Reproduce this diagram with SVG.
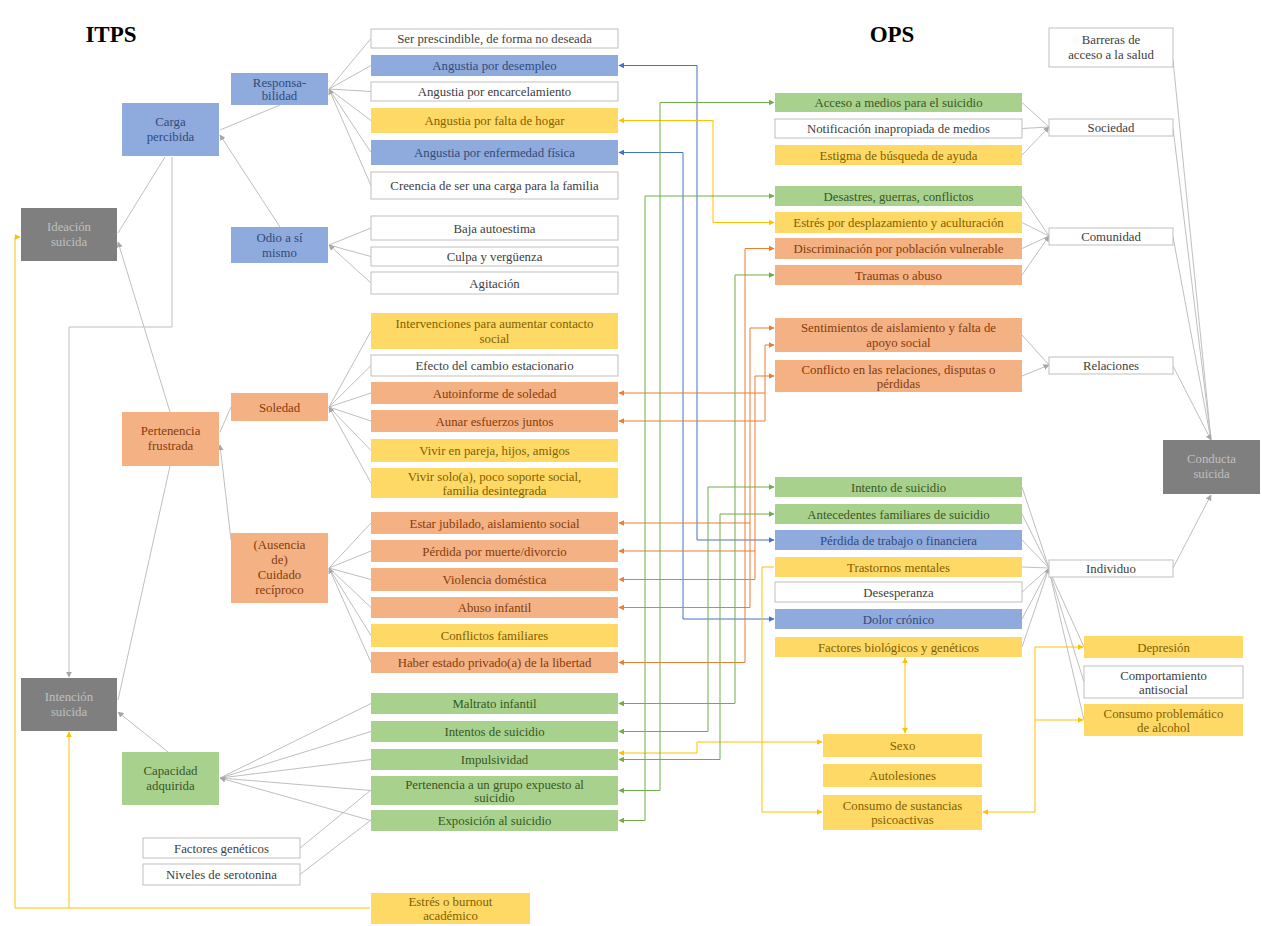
<svg xmlns="http://www.w3.org/2000/svg" width="1262" height="926" viewBox="0 0 1262 926">
<defs>
<style>
text{font-family:"Liberation Serif","Times New Roman",serif;font-size:12.8px;text-anchor:middle}
.t{font-size:23px;font-weight:bold;fill:#000}
.w rect{fill:#fff;stroke:#BFBFBF;stroke-width:1}
.w text{fill:#404040}
.b rect{fill:#8FAADC}
.b text{fill:#2F4A7A}
.y rect{fill:#FFD966}
.y text{fill:#7F6000}
.s rect{fill:#F4B183}
.s text{fill:#843C0C}
.g rect{fill:#A9D18E}
.g text{fill:#385723}
.d rect{fill:#7F7F7F}
.d text{fill:#BFBFBF}
#connectors path{fill:none;stroke-width:1}
.cg{stroke:#BFBFBF}
.cb{stroke:#4472C4;stroke-width:1.5}
.cy{stroke:#FFC000;stroke-width:1.5}
.co{stroke:#ED7D31;stroke-width:1.5}
.cn{stroke:#70AD47;stroke-width:1.5}
</style>
<marker id="ag" viewBox="0 0 10 10" refX="9" refY="5" markerWidth="6" markerHeight="6" markerUnits="userSpaceOnUse" orient="auto-start-reverse"><path d="M0,0L10,5L0,10z" fill="#A6A6A6"/></marker>
<marker id="ab" viewBox="0 0 10 10" refX="9" refY="5" markerWidth="6" markerHeight="6" markerUnits="userSpaceOnUse" orient="auto-start-reverse"><path d="M0,0L10,5L0,10z" fill="#4472C4"/></marker>
<marker id="ay" viewBox="0 0 10 10" refX="9" refY="5" markerWidth="6" markerHeight="6" markerUnits="userSpaceOnUse" orient="auto-start-reverse"><path d="M0,0L10,5L0,10z" fill="#FFC000"/></marker>
<marker id="ao" viewBox="0 0 10 10" refX="9" refY="5" markerWidth="6" markerHeight="6" markerUnits="userSpaceOnUse" orient="auto-start-reverse"><path d="M0,0L10,5L0,10z" fill="#ED7D31"/></marker>
<marker id="an" viewBox="0 0 10 10" refX="9" refY="5" markerWidth="6" markerHeight="6" markerUnits="userSpaceOnUse" orient="auto-start-reverse"><path d="M0,0L10,5L0,10z" fill="#70AD47"/></marker>
</defs>
<rect width="1262" height="926" fill="#fff"/>
<text class="t" x="111" y="42">ITPS</text>
<text class="t" x="892" y="42">OPS</text>

<g id="connectors">
<path class="cg" marker-end="url(#ag)" d="M371,38.5L329,89M371,65.5L329,89M371,91.5L329,89M371,120.5L329,89M371,152.5L329,89M371,185.5L329,89"/>
<path class="cg" marker-end="url(#ag)" d="M371,228L329,245M371,256.5L329,245M371,283L329,245"/>
<path class="cg" marker-end="url(#ag)" d="M371,331L329,407M371,365.5L329,407M371,393L329,407M371,421L329,407M371,450.5L329,407M371,483L329,407"/>
<path class="cg" marker-end="url(#ag)" d="M371,523L329,568M371,551L329,568M371,579.5L329,568M371,607.5L329,568M371,635.5L329,568M371,662.5L329,568"/>
<path class="cg" marker-end="url(#ag)" d="M371,703.5L220,778M371,731.5L220,778M371,759.5L220,778M371,790.5L220,778M371,820.5L220,778"/>
<path class="cg" d="M300,848L371,790M300,874.5L371,820"/>
<path class="cg" marker-end="url(#ag)" d="M280,105L220,130M280,227L220,135"/>
<path class="cg" marker-end="url(#ag)" d="M165,157L118,233M170,412L118,242"/>
<path class="cg" marker-end="url(#ag)" d="M172,157V327H69V677"/>
<path class="cg" marker-end="url(#ag)" d="M231,407L220,432M231,540L220,445"/>
<path class="cg" marker-end="url(#ag)" d="M170,466L118,700M168,752L118,712"/>
<path class="cg" marker-end="url(#ag)" d="M1022,102.5L1049,127M1022,128.5L1049,127M1022,155L1049,127"/>
<path class="cg" marker-end="url(#ag)" d="M1022,196L1049,236M1022,222.5L1049,236M1022,248.5L1049,236M1022,275L1049,236"/>
<path class="cg" marker-end="url(#ag)" d="M1022,335L1049,365M1022,376L1049,365"/>
<path class="cg" marker-end="url(#ag)" d="M1022,487L1049,568M1022,514L1049,568M1022,540L1049,568M1022,567L1049,568M1022,592L1049,568M1022,619L1049,568M1022,647L1049,568"/>
<path class="cg" d="M1049,570L1084,647M1049,570L1084,682M1049,570L1084,720"/>
<path class="cg" marker-end="url(#ag)" d="M1173,60L1211,440M1173,128L1211,440M1173,237L1211,440M1173,366L1211,440"/>
<path class="cg" marker-end="url(#ag)" d="M1173,568L1211,495"/>
<path class="cb" marker-start="url(#ab)" marker-end="url(#ab)" d="M619,65.5H697V540H774"/>
<path class="cb" marker-start="url(#ab)" marker-end="url(#ab)" d="M619,152.5H683V619H774"/>
<path class="cy" marker-start="url(#ay)" marker-end="url(#ay)" d="M619,120.5H713V222.5H774"/>
<path class="cy" marker-start="url(#ay)" marker-end="url(#ay)" d="M619,753H697V742H822"/>
<path class="cy" marker-end="url(#ay)" d="M774,567H762V812H822"/>
<path class="cy" marker-start="url(#ay)" marker-end="url(#ay)" d="M905,658V733"/>
<path class="cy" marker-start="url(#ay)" marker-end="url(#ay)" d="M983,812H1035V647H1083"/>
<path class="cy" marker-end="url(#ay)" d="M1035,720H1083"/>
<path class="cy" marker-end="url(#ay)" d="M370,908H15V237H20"/>
<path class="cy" marker-end="url(#ay)" d="M69,908V732"/>
<path class="co" marker-start="url(#ao)" marker-end="url(#ao)" d="M619,393H765V345H774"/>
<path class="co" marker-start="url(#ao)" d="M619,421H765V393"/>
<path class="co" marker-start="url(#ao)" marker-end="url(#ao)" d="M619,523H750V328H774"/>
<path class="co" marker-start="url(#ao)" marker-end="url(#ao)" d="M619,551H755V376H774"/>
<path class="co" marker-start="url(#ao)" d="M619,579.5H755V551"/>
<path class="co" marker-start="url(#ao)" d="M619,607.5H750V523"/>
<path class="co" marker-start="url(#ao)" marker-end="url(#ao)" d="M619,662.5H745V248.5H774"/>
<path class="cn" marker-start="url(#an)" marker-end="url(#an)" d="M619,703.5H735V275H774"/>
<path class="cn" marker-start="url(#an)" marker-end="url(#an)" d="M619,731.5H708V487H774"/>
<path class="cn" marker-start="url(#an)" marker-end="url(#an)" d="M619,759.5H720V514H774"/>
<path class="cn" marker-start="url(#an)" marker-end="url(#an)" d="M619,790.5H660V102.5H774"/>
<path class="cn" marker-start="url(#an)" marker-end="url(#an)" d="M619,820.5H645V196H774"/>
</g>

<g id="carga" class="b"><rect x="122" y="103" width="97" height="53"/><text x="170.5" y="126">Carga</text><text x="170.5" y="141">percibida</text></g>
<g id="responsabilidad" class="b"><rect x="231" y="73" width="97" height="32"/><text x="279.5" y="87">Responsa-</text><text x="279.5" y="100">bilidad</text></g>
<g id="odio" class="b"><rect x="231" y="227" width="97" height="36"/><text x="279.5" y="242">Odio a sí</text><text x="279.5" y="257">mismo</text></g>
<g id="ideacion" class="d"><rect x="21" y="208" width="96" height="53"/><text x="69" y="231">Ideación</text><text x="69" y="246">suicida</text></g>
<g id="pertenencia" class="s"><rect x="122" y="412" width="97" height="54"/><text x="170.5" y="435">Pertenencia</text><text x="170.5" y="450">frustrada</text></g>
<g id="soledad" class="s"><rect x="231" y="393" width="97" height="28"/><text x="279.5" y="411.5">Soledad</text></g>
<g id="cuidado" class="s"><rect x="231" y="533" width="97" height="70"/><text x="279.5" y="549">(Ausencia</text><text x="279.5" y="564">de)</text><text x="279.5" y="579">Cuidado</text><text x="279.5" y="594">recíproco</text></g>
<g id="intencion" class="d"><rect x="21" y="678" width="96" height="53"/><text x="69" y="701">Intención</text><text x="69" y="716">suicida</text></g>
<g id="capacidad" class="g"><rect x="122" y="752" width="97" height="53"/><text x="170.5" y="775">Capacidad</text><text x="170.5" y="790">adquirida</text></g>
<g id="factgen" class="w"><rect x="143" y="838" width="157" height="20"/><text x="221.5" y="852.5">Factores genéticos</text></g>
<g id="serotonina" class="w"><rect x="143" y="864" width="157" height="21"/><text x="221.5" y="879">Niveles de serotonina</text></g>

<g id="m1" class="w"><rect x="371" y="29" width="247" height="19"/><text x="494.5" y="43">Ser prescindible, de forma no deseada</text></g>
<g id="m2" class="b"><rect x="371" y="55" width="247" height="21"/><text x="494.5" y="70">Angustia por desempleo</text></g>
<g id="m3" class="w"><rect x="371" y="82" width="247" height="19"/><text x="494.5" y="96">Angustia por encarcelamiento</text></g>
<g id="m4" class="y"><rect x="371" y="108" width="247" height="25"/><text x="494.5" y="125">Angustia por falta de hogar</text></g>
<g id="m5" class="b"><rect x="371" y="140" width="247" height="25"/><text x="494.5" y="157">Angustia por enfermedad física</text></g>
<g id="m6" class="w"><rect x="371" y="172" width="247" height="27"/><text x="494.5" y="190">Creencia de ser una carga para la familia</text></g>
<g id="m7" class="w"><rect x="371" y="216" width="247" height="24"/><text x="494.5" y="232.5">Baja autoestima</text></g>
<g id="m8" class="w"><rect x="371" y="247" width="247" height="19"/><text x="494.5" y="261">Culpa y vergüenza</text></g>
<g id="m9" class="w"><rect x="371" y="272" width="247" height="22"/><text x="494.5" y="287.5">Agitación</text></g>
<g id="m10" class="y"><rect x="371" y="313" width="247" height="36"/><text x="494.5" y="328">Intervenciones para aumentar contacto</text><text x="494.5" y="343">social</text></g>
<g id="m11" class="w"><rect x="371" y="355" width="247" height="21"/><text x="494.5" y="370">Efecto del cambio estacionario</text></g>
<g id="m12" class="s"><rect x="371" y="382" width="247" height="22"/><text x="494.5" y="397.5">Autoinforme de soledad</text></g>
<g id="m13" class="s"><rect x="371" y="410" width="247" height="22"/><text x="494.5" y="425.5">Aunar esfuerzos juntos</text></g>
<g id="m14" class="y"><rect x="371" y="439" width="247" height="23"/><text x="494.5" y="455">Vivir en pareja, hijos, amigos</text></g>
<g id="m15" class="y"><rect x="371" y="468" width="247" height="30"/><text x="494.5" y="480.5">Vivir solo(a), poco soporte social,</text><text x="494.5" y="494.5">familia desintegrada</text></g>
<g id="m16" class="s"><rect x="371" y="512" width="247" height="22"/><text x="494.5" y="527.5">Estar jubilado, aislamiento social</text></g>
<g id="m17" class="s"><rect x="371" y="540" width="247" height="22"/><text x="494.5" y="555.5">Pérdida por muerte/divorcio</text></g>
<g id="m18" class="s"><rect x="371" y="568" width="247" height="23"/><text x="494.5" y="584">Violencia doméstica</text></g>
<g id="m19" class="s"><rect x="371" y="597" width="247" height="21"/><text x="494.5" y="612">Abuso infantil</text></g>
<g id="m20" class="y"><rect x="371" y="624" width="247" height="23"/><text x="494.5" y="640">Conflictos familiares</text></g>
<g id="m21" class="s"><rect x="371" y="652" width="247" height="21"/><text x="494.5" y="667">Haber estado privado(a) de la libertad</text></g>
<g id="m22" class="g"><rect x="371" y="693" width="247" height="21"/><text x="494.5" y="708">Maltrato infantil</text></g>
<g id="m23" class="g"><rect x="371" y="721" width="247" height="21"/><text x="494.5" y="736">Intentos de suicidio</text></g>
<g id="m24" class="g"><rect x="371" y="749" width="247" height="21"/><text x="494.5" y="764">Impulsividad</text></g>
<g id="m25" class="g"><rect x="371" y="776" width="247" height="29"/><text x="494.5" y="788.5">Pertenencia a un grupo expuesto al</text><text x="494.5" y="802">suicidio</text></g>
<g id="m26" class="g"><rect x="371" y="810" width="247" height="21"/><text x="494.5" y="825">Exposición al suicidio</text></g>
<g id="estres" class="y"><rect x="371" y="893" width="159" height="31"/><text x="450.5" y="906">Estrés o burnout</text><text x="450.5" y="920">académico</text></g>

<g id="r1" class="g"><rect x="775" y="93" width="247" height="19"/><text x="898.5" y="107">Acceso a medios para el suicidio</text></g>
<g id="r2" class="w"><rect x="775" y="119" width="247" height="19"/><text x="898.5" y="133">Notificación inapropiada de medios</text></g>
<g id="r3" class="y"><rect x="775" y="145" width="247" height="20"/><text x="898.5" y="159.5">Estigma de búsqueda de ayuda</text></g>
<g id="r4" class="g"><rect x="775" y="186" width="247" height="20"/><text x="898.5" y="200.5">Desastres, guerras, conflictos</text></g>
<g id="r5" class="y"><rect x="775" y="212" width="247" height="21"/><text x="898.5" y="227">Estrés por desplazamiento y aculturación</text></g>
<g id="r6" class="s"><rect x="775" y="238" width="247" height="21"/><text x="898.5" y="253">Discriminación por población vulnerable</text></g>
<g id="r7" class="s"><rect x="775" y="265" width="247" height="20"/><text x="898.5" y="279.5">Traumas o abuso</text></g>
<g id="r8" class="s"><rect x="775" y="318" width="247" height="34"/><text x="898.5" y="332">Sentimientos de aislamiento y falta de</text><text x="898.5" y="346.5">apoyo social</text></g>
<g id="r9" class="s"><rect x="775" y="360" width="247" height="32"/><text x="898.5" y="373.5">Conflicto en las relaciones, disputas o</text><text x="898.5" y="387.5">pérdidas</text></g>
<g id="r10" class="g"><rect x="775" y="477" width="247" height="20"/><text x="898.5" y="491.5">Intento de suicidio</text></g>
<g id="r11" class="g"><rect x="775" y="504" width="247" height="20"/><text x="898.5" y="518.5">Antecedentes familiares de suicidio</text></g>
<g id="r12" class="b"><rect x="775" y="530" width="247" height="20"/><text x="898.5" y="544.5">Pérdida de trabajo o financiera</text></g>
<g id="r13" class="y"><rect x="775" y="557" width="247" height="20"/><text x="898.5" y="571.5">Trastornos mentales</text></g>
<g id="r14" class="w"><rect x="775" y="582" width="247" height="20"/><text x="898.5" y="596.5">Desesperanza</text></g>
<g id="r15" class="b"><rect x="775" y="609" width="247" height="20"/><text x="898.5" y="623.5">Dolor crónico</text></g>
<g id="r16" class="y"><rect x="775" y="637" width="247" height="20"/><text x="898.5" y="651.5">Factores biológicos y genéticos</text></g>

<g id="barreras" class="w"><rect x="1049" y="28" width="124" height="39"/><text x="1111" y="44">Barreras de</text><text x="1111" y="58.5">acceso a la salud</text></g>
<g id="sociedad" class="w"><rect x="1049" y="119" width="124" height="17"/><text x="1111" y="132">Sociedad</text></g>
<g id="comunidad" class="w"><rect x="1049" y="228" width="124" height="17"/><text x="1111" y="241">Comunidad</text></g>
<g id="relaciones" class="w"><rect x="1049" y="357" width="124" height="17"/><text x="1111" y="370">Relaciones</text></g>
<g id="individuo" class="w"><rect x="1049" y="560" width="124" height="17"/><text x="1111" y="573">Individuo</text></g>
<g id="conducta" class="d"><rect x="1163" y="440" width="97" height="54"/><text x="1211.5" y="463">Conducta</text><text x="1211.5" y="478">suicida</text></g>
<g id="depresion" class="y"><rect x="1084" y="636" width="159" height="22"/><text x="1163.5" y="651.5">Depresión</text></g>
<g id="antisocial" class="w"><rect x="1084" y="666" width="159" height="32"/><text x="1163.5" y="679.5">Comportamiento</text><text x="1163.5" y="693.5">antisocial</text></g>
<g id="alcohol" class="y"><rect x="1084" y="704" width="159" height="32"/><text x="1163.5" y="717.5">Consumo problemático</text><text x="1163.5" y="731.5">de alcohol</text></g>
<g id="sexo" class="y"><rect x="823" y="734" width="159" height="23"/><text x="902.5" y="750">Sexo</text></g>
<g id="autolesiones" class="y"><rect x="823" y="764" width="159" height="23"/><text x="902.5" y="780">Autolesiones</text></g>
<g id="sustancias" class="y"><rect x="823" y="795" width="159" height="35"/><text x="902.5" y="809.5">Consumo de sustancias</text><text x="902.5" y="823.5">psicoactivas</text></g>
</svg>
